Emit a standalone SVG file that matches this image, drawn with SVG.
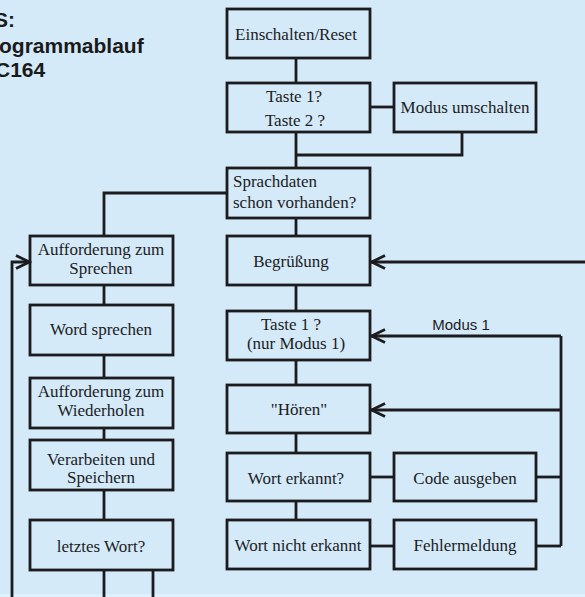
<svg xmlns="http://www.w3.org/2000/svg" width="585" height="597" viewBox="0 0 585 597">
  <defs>
    <marker id="chev" markerUnits="userSpaceOnUse" markerWidth="20" markerHeight="20" viewBox="-18 -10 20 20" refX="0" refY="0" orient="auto">
      <path d="M-14,-6.5 L-0.5,0 L-14,6.5" fill="none" stroke="#1c1c1e" stroke-width="2.8" stroke-linejoin="miter"/>
    </marker>
    <style>
      .box { fill: none; stroke: #1c1c1e; stroke-width: 2.8; }
      .t { font-family: "Liberation Serif", "Times New Roman", serif; font-size: 17px; fill: #1c1c1e; text-anchor: middle; }
      .tl { text-anchor: start; }
      .title { font-family: "Liberation Sans", Arial, sans-serif; font-size: 21px; font-weight: bold; fill: #1a1a1a; }
      .lbl { font-family: "Liberation Sans", Arial, sans-serif; font-size: 15px; fill: #1c1c1e; text-anchor: middle; }
      .c { fill: none; stroke: #1c1c1e; stroke-width: 2.8; }
    </style>
  </defs>

  <!-- background -->
  <rect x="0" y="0" width="585" height="597" fill="#d4eaf8"/>
  <rect x="0" y="594" width="585" height="3" fill="#e0f1fb"/>

  <!-- caption (runs off the left edge) -->
  <g id="caption">
    <text class="title" x="-6" y="27">S:</text>
    <text class="title" x="-1" y="53">ogrammablauf</text>
    <text class="title" x="-5" y="77">C164</text>
  </g>

  <!-- connectors -->
  <g id="connectors">
    <path class="c" d="M296,58 V83"/>
    <path class="c" d="M371,107 H394"/>
    <path class="c" d="M296,132 V168"/>
    <path class="c" d="M462,132 V155 H296"/>
    <path class="c" d="M227,193 H104 V236"/>
    <path class="c" d="M296,218 V236"/>
    <path class="c" d="M296,285 V311"/>
    <path class="c" d="M296,360 V385"/>
    <path class="c" d="M296,433 V453"/>
    <path class="c" d="M296,501 V520"/>
    <path class="c" d="M370,477 H394"/>
    <path class="c" d="M536,477 H561"/>
    <path class="c" d="M370,546 H394"/>
    <path class="c" d="M536,546 H561"/>
    <path class="c" d="M561,546 V336"/>
    <path class="c" d="M561,336 H371" marker-end="url(#chev)"/>
    <path class="c" d="M561,410 H371" marker-end="url(#chev)"/>
    <path class="c" d="M586,262 H371" marker-end="url(#chev)"/>
    <!-- left column -->
    <path class="c" d="M104,285 V305"/>
    <path class="c" d="M104,355 V378"/>
    <path class="c" d="M104,428 V440"/>
    <path class="c" d="M104,490 V520"/>
    <path class="c" d="M104,570 V598"/>
    <path class="c" d="M153,570 V598"/>
    <path class="c" d="M12,598 V262 H30" marker-end="url(#chev)"/>
  </g>

  <!-- main column -->
  <g id="n-reset">
    <rect class="box" x="227" y="9" width="143" height="49"/>
    <text class="t" x="296" y="40">Einschalten/Reset</text>
  </g>
  <g id="n-taste12">
    <rect class="box" x="227" y="83" width="143" height="49"/>
    <text class="t" x="294" y="102">Taste 1?</text>
    <text class="t" x="295" y="126">Taste 2 ?</text>
  </g>
  <g id="n-modus">
    <rect class="box" x="394" y="83" width="142" height="49"/>
    <text class="t" x="465" y="113">Modus umschalten</text>
  </g>
  <g id="n-sprachdaten">
    <rect class="box" x="227" y="168" width="143" height="50"/>
    <text class="t tl" x="233" y="187">Sprachdaten</text>
    <text class="t tl" x="233" y="208">schon vorhanden?</text>
  </g>
  <g id="n-begruessung">
    <rect class="box" x="227" y="236" width="143" height="49"/>
    <text class="t" x="291" y="267">Begrüßung</text>
  </g>
  <g id="n-taste1">
    <rect class="box" x="227" y="311" width="143" height="49"/>
    <text class="t" x="291" y="330">Taste 1 ?</text>
    <text class="t" x="296" y="349">(nur Modus 1)</text>
  </g>
  <text class="lbl" x="461" y="330">Modus 1</text>
  <g id="n-hoeren">
    <rect class="box" x="227" y="385" width="143" height="48"/>
    <text class="t" x="299" y="415">"Hören"</text>
  </g>
  <g id="n-erkannt">
    <rect class="box" x="227" y="453" width="143" height="48"/>
    <text class="t" x="296" y="484">Wort erkannt?</text>
  </g>
  <g id="n-code">
    <rect class="box" x="394" y="453" width="142" height="48"/>
    <text class="t" x="465" y="484">Code ausgeben</text>
  </g>
  <g id="n-nicht-erkannt">
    <rect class="box" x="227" y="520" width="143" height="49"/>
    <text class="t" x="298" y="551">Wort nicht erkannt</text>
  </g>
  <g id="n-fehler">
    <rect class="box" x="394" y="520" width="142" height="49"/>
    <text class="t" x="465" y="551">Fehlermeldung</text>
  </g>

  <!-- left column -->
  <g id="n-auff-sprechen">
    <rect class="box" x="30" y="236" width="143" height="49"/>
    <text class="t" x="101" y="255">Aufforderung zum</text>
    <text class="t" x="101" y="274">Sprechen</text>
  </g>
  <g id="n-word">
    <rect class="box" x="30" y="305" width="143" height="50"/>
    <text class="t" x="101" y="335">Word sprechen</text>
  </g>
  <g id="n-auff-wiederholen">
    <rect class="box" x="30" y="378" width="143" height="50"/>
    <text class="t" x="101" y="397">Aufforderung zum</text>
    <text class="t" x="101" y="416">Wiederholen</text>
  </g>
  <g id="n-verarbeiten">
    <rect class="box" x="30" y="440" width="143" height="50"/>
    <text class="t" x="101" y="465">Verarbeiten und</text>
    <text class="t" x="101" y="483">Speichern</text>
  </g>
  <g id="n-letztes">
    <rect class="box" x="30" y="520" width="143" height="50"/>
    <text class="t" x="101" y="552">letztes Wort?</text>
  </g>
</svg>
